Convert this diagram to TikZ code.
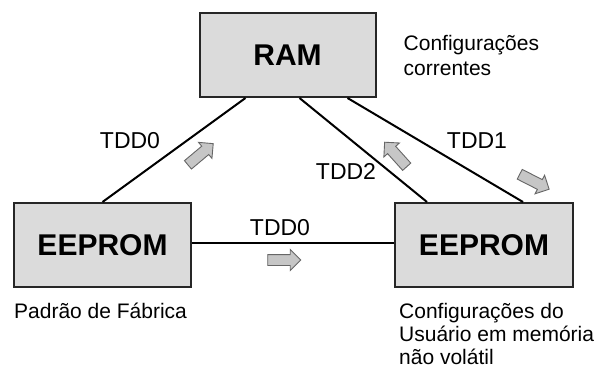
\documentclass[tikz,border=0pt]{standalone}
\usepackage{fontspec}
\setmainfont{Liberation Sans}
\usepackage{tikz}
\usetikzlibrary{shapes,calc,positioning}
\tikzset{
  box/.style={draw=black!85, line width=2pt, fill=gray!28, minimum width=176pt, minimum height=84pt, font=\fontsize{30}{32}\selectfont\bfseries},
  wire/.style={line width=2pt},
  tdd/.style={font=\fontsize{23}{25}\selectfont, inner sep=0pt},
  note/.style={font=\fontsize{21}{23}\selectfont, align=left, inner sep=0pt},
  flow/.style={single arrow, draw=black!60, fill=gray!45, line width=0.9pt, minimum height=33pt, inner sep=5pt, single arrow head extend=5pt}
}

\begin{document}
\begin{tikzpicture}[x=1pt,y=-1pt]
    \useasboundingbox (0,0) rectangle (594,377);
    \node (ram) [box] at (287.5,55) {RAM};
    \node (eepl) [box,minimum width=177pt] at (102.5,245) {EEPROM};
    \node (eepr) [box,minimum width=178pt] at (484,245) {EEPROM};
    \draw[wire] ([xshift=-42pt]ram.south) -- (eepl.north);
    \draw[wire] ([xshift=12pt]ram.south) -- ([xshift=-57pt]eepr.north);
    \draw[wire] ([xshift=60pt]ram.south) -- ([xshift=39pt]eepr.north);
    \draw[wire] ([yshift=2pt]eepl.east) -- ([yshift=2pt]eepr.west);
    \node (tddA) [tdd] at (130,141) {TDD0};
    \node (tddB) [tdd] at (280,228) {TDD0};
    \node (tddC) [tdd] at (346,171) {TDD2};
    \node (tddD) [tdd] at (477,141) {TDD1};
    \node (upA) [flow,rotate=40] at (198.5,156) {};
    \node (mid) [flow] at (281.5,260) {};
    \node (upC) [flow,rotate=132] at (397.5,156.5) {};
    \node (dnD) [flow,rotate=-27] at (532,180.5) {};
    \node (corr) [note,font=\fontsize{21}{25}\selectfont,below right=23pt and 27pt of ram.north east] {Configurações\\correntes};
    \node (fab) [note,below right=15pt and 1pt of eepl.south west] {Padrão de Fábrica};
    \node (usr) [note,below right=15pt and 5pt of eepr.south west] {Configurações do\\Usuário em memória\\não volátil};
\end{tikzpicture}
\end{document}
